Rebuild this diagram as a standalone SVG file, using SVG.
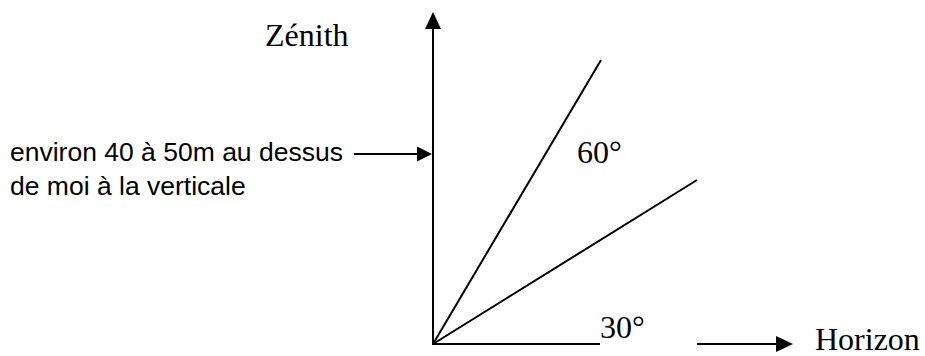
<svg xmlns="http://www.w3.org/2000/svg" width="925" height="356" viewBox="0 0 925 356">
<style>
.ln{stroke:#000;stroke-width:2;fill:none}
.hd{fill:#000}
.tm{font-family:"Liberation Serif","Times New Roman",serif;font-size:32px;fill:#000}
.ar{font-family:"Liberation Sans",Arial,sans-serif;font-size:26.5px;fill:#000}
</style>
<g id="connectors">
<line class="ln" x1="433" y1="345" x2="433" y2="28"/>
<path class="hd" d="M433,12 L441,29 L425,29 Z"/>
<line class="ln" x1="433" y1="344" x2="601" y2="60"/>
<line class="ln" x1="433" y1="344" x2="697" y2="180"/>
<line class="ln" x1="433" y1="344" x2="600" y2="344"/>
<line class="ln" x1="697" y1="344" x2="777" y2="344"/>
<path class="hd" d="M793,344 L776,336 L776,352 Z"/>
<line class="ln" x1="354" y1="154" x2="418" y2="154"/>
<path class="hd" d="M432,154 L417,146.5 L417,161.5 Z"/>
</g>
<g id="zenith"><text class="tm" x="265" y="46">Zénith</text></g>
<g id="horizon"><text class="tm" x="815" y="350">Horizon</text></g>
<g id="a60"><text class="tm" x="577" y="163">60°</text></g>
<g id="a30"><text class="tm" x="600" y="338">30°</text></g>
<g id="note"><text class="ar" x="10" y="161">environ 40 à 50m au dessus</text><text class="ar" x="10" y="195">de moi à la verticale</text></g>
</svg>
